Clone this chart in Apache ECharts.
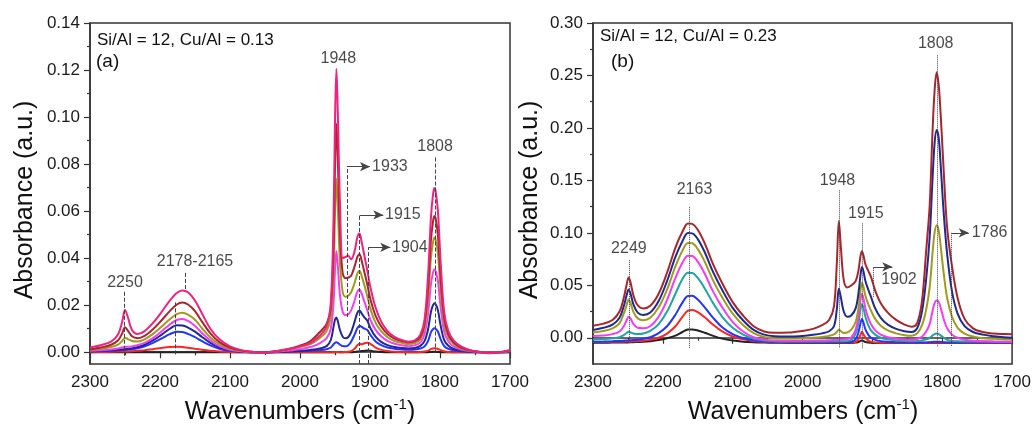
<!DOCTYPE html>
<html>
<head>
<meta charset="utf-8">
<script src="https://cdn.jsdelivr.net/npm/echarts@6/dist/echarts.min.js"></script>
<style>
  html, body { margin: 0; padding: 0; background: #fff; }
  #chart { width: 1034px; height: 425px; }
</style>
</head>
<body>
<div id="chart"></div>
<script>
// ---------- Panel (a): Si/Al = 12, Cu/Al = 0.13 ----------
// wavenumber samples (cm-1)
const wnA = [2300, 2285, 2270, 2260, 2254, 2250, 2246, 2240, 2232, 2222,
             2210, 2198, 2186, 2176, 2168, 2160, 2150, 2140, 2128, 2115,
             2100, 2085, 2070, 2055, 2040, 2020, 2000, 1985, 1972, 1962,
             1956, 1952, 1950, 1948, 1946, 1943, 1939, 1935, 1931, 1927,
             1922, 1918, 1915, 1912, 1908, 1904, 1899, 1892, 1884, 1875,
             1865, 1855, 1845, 1836, 1828, 1822, 1817, 1813, 1810, 1808,
             1806, 1803, 1799, 1794, 1788, 1780, 1770, 1758, 1745, 1730,
             1715, 1700];
const a_pink = [0.0020, 0.0030, 0.0045, 0.0075, 0.0130, 0.0180, 0.0150, 0.0095, 0.0078, 0.0090,
                0.0125, 0.0170, 0.0220, 0.0252, 0.0263, 0.0255, 0.0220, 0.0165, 0.0100, 0.0055,
                0.0025, 0.0010, 0.0003, -0.0002, 0.0002, 0.0012, 0.0025, 0.0040, 0.0070, 0.0110,
                0.0210, 0.0580, 0.0980, 0.1205, 0.1020, 0.0640, 0.0400, 0.0405, 0.0410, 0.0395,
                0.0430, 0.0490, 0.0505, 0.0470, 0.0410, 0.0350, 0.0270, 0.0190, 0.0130, 0.0090,
                0.0065, 0.0052, 0.0045, 0.0050, 0.0075, 0.0140, 0.0330, 0.0570, 0.0670, 0.0698,
                0.0680, 0.0600, 0.0380, 0.0170, 0.0090, 0.0048, 0.0025, 0.0010, 0.0002, -0.0004,
                0.0000, 0.0010];
const a_darkred = [0.0012, 0.0020, 0.0032, 0.0050, 0.0080, 0.0106, 0.0092, 0.0068, 0.0060, 0.0070,
                   0.0098, 0.0135, 0.0175, 0.0203, 0.0211, 0.0203, 0.0175, 0.0130, 0.0080, 0.0043,
                   0.0020, 0.0008, 0.0002, -0.0001, 0.0002, 0.0012, 0.0028, 0.0048, 0.0085, 0.0120,
                   0.0190, 0.0460, 0.0780, 0.0972, 0.0820, 0.0510, 0.0335, 0.0315, 0.0318, 0.0325,
                   0.0365, 0.0405, 0.0417, 0.0390, 0.0340, 0.0290, 0.0220, 0.0155, 0.0110, 0.0078,
                   0.0058, 0.0048, 0.0042, 0.0046, 0.0066, 0.0125, 0.0275, 0.0475, 0.0556, 0.0579,
                   0.0565, 0.0498, 0.0313, 0.0145, 0.0075, 0.0040, 0.0020, 0.0008, 0.0002, -0.0003,
                   0.0000, 0.0008];
const a_olive = [0.0010, 0.0015, 0.0022, 0.0032, 0.0048, 0.0062, 0.0056, 0.0048, 0.0046, 0.0055,
                 0.0078, 0.0108, 0.0140, 0.0162, 0.0168, 0.0160, 0.0138, 0.0102, 0.0063, 0.0034,
                 0.0015, 0.0006, 0.0001, -0.0001, 0.0002, 0.0010, 0.0022, 0.0035, 0.0060, 0.0090,
                 0.0150, 0.0350, 0.0590, 0.0738, 0.0620, 0.0385, 0.0255, 0.0236, 0.0240, 0.0255,
                 0.0295, 0.0335, 0.0347, 0.0325, 0.0285, 0.0240, 0.0180, 0.0125, 0.0090, 0.0064,
                 0.0048, 0.0040, 0.0035, 0.0038, 0.0056, 0.0105, 0.0230, 0.0400, 0.0468, 0.0488,
                 0.0476, 0.0420, 0.0264, 0.0122, 0.0063, 0.0034, 0.0017, 0.0007, 0.0002, -0.0002,
                 0.0000, 0.0006];
const a_magenta = [0.0006, 0.0008, 0.0012, 0.0016, 0.0020, 0.0023, 0.0023, 0.0025, 0.0030, 0.0040,
                   0.0060, 0.0088, 0.0118, 0.0137, 0.0141, 0.0133, 0.0112, 0.0082, 0.0050, 0.0026,
                   0.0011, 0.0004, 0.0000, -0.0001, 0.0001, 0.0006, 0.0013, 0.0022, 0.0038, 0.0060,
                   0.0100, 0.0215, 0.0350, 0.0431, 0.0370, 0.0245, 0.0172, 0.0158, 0.0162, 0.0178,
                   0.0220, 0.0258, 0.0267, 0.0250, 0.0215, 0.0180, 0.0135, 0.0095, 0.0068, 0.0048,
                   0.0036, 0.0030, 0.0026, 0.0029, 0.0042, 0.0078, 0.0165, 0.0289, 0.0338, 0.0352,
                   0.0343, 0.0303, 0.0190, 0.0088, 0.0046, 0.0024, 0.0012, 0.0005, 0.0001, -0.0001,
                   0.0000, 0.0004];
const a_navy = [0.0004, 0.0006, 0.0008, 0.0010, 0.0012, 0.0013, 0.0014, 0.0017, 0.0022, 0.0032,
                0.0050, 0.0074, 0.0100, 0.0115, 0.0114, 0.0105, 0.0088, 0.0065, 0.0040, 0.0021,
                0.0009, 0.0003, 0.0000, -0.0001, 0.0000, 0.0003, 0.0006, 0.0010, 0.0016, 0.0026,
                0.0052, 0.0110, 0.0138, 0.0148, 0.0133, 0.0095, 0.0066, 0.0059, 0.0065, 0.0085,
                0.0130, 0.0168, 0.0177, 0.0165, 0.0148, 0.0135, 0.0100, 0.0066, 0.0044, 0.0030,
                0.0022, 0.0018, 0.0016, 0.0018, 0.0027, 0.0048, 0.0098, 0.0171, 0.0200, 0.0208,
                0.0203, 0.0179, 0.0112, 0.0052, 0.0028, 0.0014, 0.0007, 0.0003, 0.0001, 0.0000,
                0.0000, 0.0002];
const a_blue = [0.0003, 0.0004, 0.0006, 0.0008, 0.0009, 0.0010, 0.0011, 0.0013, 0.0017, 0.0025,
                0.0040, 0.0058, 0.0077, 0.0087, 0.0086, 0.0078, 0.0064, 0.0047, 0.0029, 0.0015,
                0.0006, 0.0002, 0.0000, -0.0001, 0.0000, 0.0002, 0.0004, 0.0006, 0.0009, 0.0013,
                0.0020, 0.0034, 0.0040, 0.0042, 0.0040, 0.0033, 0.0026, 0.0025, 0.0030, 0.0045,
                0.0075, 0.0103, 0.0113, 0.0108, 0.0100, 0.0095, 0.0072, 0.0046, 0.0030, 0.0020,
                0.0015, 0.0012, 0.0011, 0.0012, 0.0016, 0.0025, 0.0048, 0.0084, 0.0098, 0.0102,
                0.0099, 0.0088, 0.0055, 0.0026, 0.0014, 0.0008, 0.0004, 0.0002, 0.0000, 0.0000,
                0.0000, 0.0001];
const a_red = [0.0000, 0.0001, 0.0002, 0.0003, 0.0003, 0.0003, 0.0003, 0.0004, 0.0006, 0.0009,
               0.0013, 0.0018, 0.0022, 0.0023, 0.0022, 0.0019, 0.0015, 0.0011, 0.0006, 0.0003,
               0.0001, 0.0000, 0.0000, 0.0000, 0.0000, 0.0000, 0.0000, 0.0000, 0.0000, 0.0000,
               0.0000, 0.0000, 0.0001, 0.0001, 0.0001, 0.0000, 0.0000, 0.0001, 0.0002, 0.0005,
               0.0015, 0.0030, 0.0036, 0.0034, 0.0038, 0.0040, 0.0035, 0.0020, 0.0010, 0.0005,
               0.0002, 0.0001, 0.0000, 0.0000, 0.0001, 0.0003, 0.0007, 0.0013, 0.0016, 0.0017,
               0.0016, 0.0014, 0.0009, 0.0004, 0.0001, 0.0000, 0.0000, 0.0000, 0.0000, 0.0000,
               0.0000, 0.0000];
const a_black = [0.0000, 0.0000, 0.0000, 0.0000, 0.0000, 0.0000, 0.0000, 0.0000, 0.0000, 0.0000,
                 0.0000, 0.0000, 0.0000, 0.0000, 0.0000, 0.0000, 0.0000, 0.0000, 0.0000, 0.0000,
                 0.0000, 0.0000, 0.0000, 0.0000, 0.0000, 0.0000, 0.0000, 0.0000, 0.0000, 0.0000,
                 0.0000, 0.0000, 0.0000, 0.0000, 0.0000, 0.0000, 0.0000, 0.0000, 0.0000, 0.0000,
                 0.0001, 0.0003, 0.0004, 0.0005, 0.0006, 0.0007, 0.0006, 0.0003, 0.0001, 0.0000,
                 0.0000, 0.0000, 0.0000, 0.0000, 0.0000, 0.0000, 0.0000, 0.0001, 0.0002, 0.0002,
                 0.0002, 0.0001, 0.0000, 0.0000, 0.0000, 0.0000, 0.0000, 0.0000, 0.0000, 0.0000,
                 0.0000, 0.0000];

// ---------- Panel (b): Si/Al = 12, Cu/Al = 0.23 ----------
const wnB = [2300, 2285, 2272, 2262, 2256, 2252, 2249, 2246, 2242, 2236,
             2228, 2218, 2206, 2194, 2182, 2172, 2164, 2158, 2150, 2140,
             2128, 2115, 2100, 2085, 2070, 2055, 2040, 2020, 2000, 1985,
             1972, 1962, 1955, 1951, 1948, 1945, 1941, 1936, 1930, 1924,
             1920, 1917, 1915, 1913, 1910, 1906, 1902, 1896, 1888, 1878,
             1866, 1854, 1844, 1836, 1829, 1823, 1818, 1814, 1811, 1808,
             1805, 1802, 1798, 1793, 1786, 1778, 1768, 1756, 1742, 1726,
             1712, 1700];
const b_darkred = [0.0115, 0.0135, 0.0170, 0.0250, 0.0380, 0.0500, 0.0575, 0.0520, 0.0400, 0.0310,
                   0.0280, 0.0305, 0.0420, 0.0620, 0.0860, 0.1010, 0.1090, 0.1085, 0.1030, 0.0900,
                   0.0700, 0.0520, 0.0340, 0.0210, 0.0110, 0.0060, 0.0048, 0.0050, 0.0065, 0.0085,
                   0.0120, 0.0170, 0.0300, 0.0700, 0.1114, 0.0850, 0.0550, 0.0480, 0.0500, 0.0540,
                   0.0640, 0.0780, 0.0825, 0.0790, 0.0700, 0.0640, 0.0580, 0.0450, 0.0330, 0.0240,
                   0.0170, 0.0125, 0.0105, 0.0140, 0.0350, 0.0830, 0.1260, 0.1950, 0.2350, 0.2530,
                   0.2400, 0.2100, 0.1600, 0.1050, 0.0680, 0.0380, 0.0180, 0.0090, 0.0055, 0.0040,
                   0.0035, 0.0033];
const b_navy = [0.0075, 0.0095, 0.0125, 0.0190, 0.0300, 0.0400, 0.0460, 0.0415, 0.0315, 0.0240,
                0.0218, 0.0240, 0.0350, 0.0540, 0.0770, 0.0920, 0.0998, 0.0995, 0.0940, 0.0815,
                0.0625, 0.0455, 0.0285, 0.0165, 0.0075, 0.0030, 0.0015, 0.0013, 0.0018, 0.0028,
                0.0042, 0.0062, 0.0110, 0.0270, 0.0470, 0.0380, 0.0250, 0.0200, 0.0215, 0.0280,
                0.0420, 0.0600, 0.0675, 0.0640, 0.0540, 0.0460, 0.0390, 0.0280, 0.0190, 0.0125,
                0.0085, 0.0062, 0.0055, 0.0090, 0.0250, 0.0560, 0.0960, 0.1500, 0.1850, 0.1980,
                0.1900, 0.1620, 0.1200, 0.0800, 0.0440, 0.0230, 0.0110, 0.0055, 0.0030, 0.0015,
                0.0005, 0.0000];
const b_olive = [0.0050, 0.0065, 0.0090, 0.0140, 0.0230, 0.0310, 0.0365, 0.0325, 0.0245, 0.0185,
                 0.0168, 0.0190, 0.0290, 0.0460, 0.0680, 0.0830, 0.0903, 0.0900, 0.0845, 0.0725,
                 0.0545, 0.0385, 0.0230, 0.0120, 0.0045, 0.0008, -0.0004, -0.0007, -0.0005, 0.0000,
                 0.0008, 0.0018, 0.0032, 0.0055, 0.0076, 0.0062, 0.0046, 0.0050, 0.0080, 0.0150,
                 0.0280, 0.0450, 0.0524, 0.0490, 0.0400, 0.0320, 0.0260, 0.0180, 0.0115, 0.0070,
                 0.0042, 0.0025, 0.0020, 0.0040, 0.0120, 0.0270, 0.0480, 0.0800, 0.1000, 0.1073,
                 0.1020, 0.0860, 0.0620, 0.0380, 0.0200, 0.0095, 0.0040, 0.0012, -0.0004, -0.0010,
                 -0.0014, -0.0016];
const b_magenta = [0.0016, 0.0022, 0.0035, 0.0060, 0.0110, 0.0165, 0.0200, 0.0180, 0.0130, 0.0095,
                   0.0090, 0.0110, 0.0200, 0.0360, 0.0570, 0.0715, 0.0782, 0.0780, 0.0725, 0.0610,
                   0.0440, 0.0290, 0.0150, 0.0060, 0.0005, -0.0018, -0.0026, -0.0028, -0.0028, -0.0026,
                   -0.0025, -0.0023, -0.0021, -0.0019, -0.0017, -0.0018, -0.0016, -0.0012, 0.0005, 0.0075,
                   0.0200, 0.0360, 0.0416, 0.0380, 0.0280, 0.0190, 0.0130, 0.0070, 0.0030, 0.0005,
                   -0.0010, -0.0018, -0.0020, -0.0012, 0.0010, 0.0060, 0.0130, 0.0250, 0.0330, 0.0355,
                   0.0340, 0.0280, 0.0180, 0.0090, 0.0030, 0.0000, -0.0018, -0.0028, -0.0033, -0.0036,
                   -0.0038, -0.0040];
const b_teal = [-0.0016, -0.0012, -0.0005, 0.0005, 0.0025, 0.0045, 0.0057, 0.0050, 0.0040, 0.0035,
                0.0040, 0.0065, 0.0130, 0.0250, 0.0420, 0.0560, 0.0620, 0.0618, 0.0570, 0.0470,
                0.0330, 0.0200, 0.0095, 0.0030, -0.0008, -0.0026, -0.0032, -0.0035, -0.0036, -0.0036,
                -0.0035, -0.0034, -0.0034, -0.0033, -0.0033, -0.0033, -0.0033, -0.0032, -0.0020, 0.0040,
                0.0140, 0.0270, 0.0320, 0.0290, 0.0200, 0.0120, 0.0070, 0.0030, 0.0000, -0.0015,
                -0.0025, -0.0030, -0.0032, -0.0030, -0.0025, -0.0015, 0.0000, 0.0020, 0.0035, 0.0040,
                0.0035, 0.0020, 0.0000, -0.0020, -0.0030, -0.0034, -0.0035, -0.0036, -0.0036, -0.0037,
                -0.0037, -0.0037];
const b_blue = [-0.0038, -0.0036, -0.0033, -0.0030, -0.0028, -0.0026, -0.0025, -0.0024, -0.0022, -0.0018,
                -0.0010, 0.0005, 0.0045, 0.0110, 0.0220, 0.0335, 0.0398, 0.0400, 0.0365, 0.0290,
                0.0190, 0.0100, 0.0035, -0.0003, -0.0024, -0.0035, -0.0040, -0.0042, -0.0043, -0.0043,
                -0.0043, -0.0043, -0.0043, -0.0043, -0.0043, -0.0043, -0.0043, -0.0043, -0.0038, -0.0015,
                0.0050, 0.0140, 0.0178, 0.0150, 0.0080, 0.0030, 0.0000, -0.0020, -0.0032, -0.0038,
                -0.0042, -0.0044, -0.0045, -0.0045, -0.0045, -0.0044, -0.0042, -0.0040, -0.0038, -0.0037,
                -0.0038, -0.0040, -0.0042, -0.0044, -0.0045, -0.0045, -0.0045, -0.0045, -0.0045, -0.0045,
                -0.0045, -0.0045];
const b_red = [-0.0040, -0.0040, -0.0039, -0.0038, -0.0037, -0.0036, -0.0036, -0.0035, -0.0034, -0.0033,
               -0.0028, -0.0020, 0.0000, 0.0040, 0.0110, 0.0200, 0.0258, 0.0265, 0.0245, 0.0195,
               0.0125, 0.0060, 0.0012, -0.0015, -0.0030, -0.0038, -0.0042, -0.0045, -0.0046, -0.0046,
               -0.0046, -0.0046, -0.0046, -0.0046, -0.0046, -0.0046, -0.0046, -0.0046, -0.0045, -0.0040,
               -0.0015, 0.0030, 0.0057, 0.0035, 0.0000, -0.0025, -0.0038, -0.0045, -0.0047, -0.0048,
               -0.0048, -0.0048, -0.0048, -0.0048, -0.0048, -0.0048, -0.0048, -0.0048, -0.0048, -0.0048,
               -0.0048, -0.0048, -0.0048, -0.0048, -0.0048, -0.0048, -0.0048, -0.0048, -0.0048, -0.0048,
               -0.0048, -0.0048];
const b_black = [-0.0048, -0.0047, -0.0046, -0.0045, -0.0045, -0.0044, -0.0044, -0.0043, -0.0042, -0.0041,
                 -0.0039, -0.0033, -0.0022, -0.0005, 0.0020, 0.0055, 0.0078, 0.0080, 0.0070, 0.0048,
                 0.0018, -0.0008, -0.0026, -0.0037, -0.0043, -0.0046, -0.0048, -0.0049, -0.0050, -0.0050,
                 -0.0050, -0.0050, -0.0050, -0.0050, -0.0050, -0.0050, -0.0050, -0.0050, -0.0049, -0.0046,
                 -0.0040, -0.0030, -0.0025, -0.0030, -0.0040, -0.0046, -0.0048, -0.0050, -0.0050, -0.0050,
                 -0.0050, -0.0050, -0.0050, -0.0050, -0.0050, -0.0050, -0.0050, -0.0050, -0.0050, -0.0050,
                 -0.0050, -0.0050, -0.0050, -0.0050, -0.0050, -0.0050, -0.0050, -0.0050, -0.0050, -0.0050,
                 -0.0050, -0.0050];

// axis ticks
const xTicks = { min: 1700, max: 2300, step: 100 };
const yTicksA = [0, 0.02, 0.04, 0.06, 0.08, 0.10, 0.12, 0.14];
const yMinorA = [0.01, 0.03, 0.05, 0.07, 0.09, 0.11, 0.13];
const yTicksB = [0, 0.05, 0.10, 0.15, 0.20, 0.25, 0.30];
const yMinorB = [0.025, 0.075, 0.125, 0.175, 0.225, 0.275];

// ---------- drawing ----------
const FONT = 'Liberation Sans, Arial, Helvetica, sans-serif';
const INK = '#333';
const COLORS = {
  pink: '#F2217F', darkred: '#A8262B', olive: '#9E9B1E', magenta: '#F53CF5',
  navy: '#1E2A8E', blue: '#2234FF', red: '#FF2424', black: '#222222', teal: '#1FA3A3'
};

function spectrum(name, wn, vals, color, gi, extra) {
  return Object.assign({
    type: 'line', name: name, xAxisIndex: gi, yAxisIndex: gi * 2,
    data: wn.map((w, i) => [w, vals[i]]),
    showSymbol: false, smooth: 0.35, silent: true, animation: false,
    lineStyle: { color: color, width: 2 }, itemStyle: { color: color }
  }, extra || {});
}

// elbow arrow: solid horizontal segment ending in a filled head
function arrow(wnFrom, wnTo, y) {
  return [{ coord: [wnFrom, y], symbol: 'none' },
          { coord: [wnTo, y], symbol: 'arrow', symbolSize: [7, 10], lineStyle: { type: 'solid' } }];
}
function markers(lines, type) {
  return {
    silent: true, animation: false, symbol: ['none', 'none'], symbolSize: 8,
    label: { show: false },
    lineStyle: { color: '#444', width: 1, type: type },
    emphasis: { disabled: true },
    data: lines
  };
}

const markA = markers([
  [{ coord: [2251, 0.0257] }, { coord: [2251, -0.0026] }],
  [{ coord: [2164, 0.0337] }, { coord: [2164, 0.0262] }],
  [{ coord: [2178, 0.0212] }, { coord: [2178, -0.0015] }],
  [{ coord: [1933, 0.0150] }, { coord: [1933, 0.0789] }],
  [{ coord: [1915, -0.0050] }, { coord: [1915, 0.0584] }],
  [{ coord: [1902, -0.0050] }, { coord: [1902, 0.0446] }],
  [{ coord: [1807, 0.0828] }, { coord: [1807, 0.0000] }],
  arrow(1933, 1900, 0.0789),
  arrow(1915, 1881, 0.0584),
  arrow(1902, 1871, 0.0446)
], 'dashed');

const markB = markers([
  [{ coord: [2248, 0.0740] }, { coord: [2248, -0.0038] }],
  [{ coord: [2162, 0.1248] }, { coord: [2162, -0.0100] }],
  [{ coord: [1947.6, 0.1405] }, { coord: [1947.6, -0.0100] }],
  [{ coord: [1915.2, 0.1090] }, { coord: [1915.2, -0.0100] }],
  [{ coord: [1898.6, 0.0390] }, { coord: [1898.6, 0.0676] }],
  [{ coord: [1807.1, 0.2692] }, { coord: [1807.1, -0.0086] }],
  [{ coord: [1786.6, 0.1000] }, { coord: [1786.6, -0.0086] }],
  arrow(1898.6, 1871.5, 0.0676),
  arrow(1786.6, 1762, 0.1000)
], 'dotted');

// band position labels
function bandLabels(gi, items) {
  return {
    type: 'scatter', xAxisIndex: gi, yAxisIndex: gi * 2, silent: true, animation: false,
    symbolSize: 0, z: 5,
    label: { show: true, position: 'inside', color: '#1a1a1a', fontSize: 16, fontFamily: FONT },
    data: items.map(it => ({ value: [it[1], it[2]],
      label: { formatter: it[0], align: it[3] || 'center', verticalAlign: 'middle' } }))
  };
}
const labelsA = bandLabels(0, [
  ['2250', 2250, 0.0295], ['2178-2165', 2150, 0.0385], ['1948', 1945.3, 0.1249],
  ['1933', 1897, 0.0789, 'left'], ['1915', 1878.5, 0.0584, 'left'],
  ['1904', 1868.5, 0.0446, 'left'], ['1808', 1807, 0.0874]
]);
const labelsB = bandLabels(1, [
  ['2249', 2248.6, 0.0851], ['2163', 2154.7, 0.1413], ['1948', 1950, 0.1502],
  ['1915', 1909.4, 0.1185], ['1902', 1862, 0.0556], ['1808', 1809.4, 0.2804],
  ['1786', 1757.6, 0.1000, 'left']
]);

function xAxis(gi) {
  return {
    type: 'value', gridIndex: gi, inverse: true,
    min: xTicks.min, max: xTicks.max, interval: xTicks.step,
    axisLine: { lineStyle: { color: INK, width: 1.5 } },
    axisTick: { inside: false, length: 6, lineStyle: { color: INK, width: 1.2 } },
    minorTick: { show: true, splitNumber: 2, length: 3, lineStyle: { color: INK, width: 1.2 } },
    splitLine: { show: false },
    axisLabel: { fontSize: 17, color: '#1a1a1a', fontFamily: FONT, margin: 10,
                 formatter: v => String(v) }
  };
}
function yAxes(gi, min, max, major, minor) {
  return [{
    type: 'value', gridIndex: gi, min: min, max: max, position: 'left',
    axisLine: { show: true, lineStyle: { color: INK, width: 1.5 } },
    axisTick: { show: true, inside: false, length: 6, customValues: major,
                lineStyle: { color: INK, width: 1.2 } },
    splitLine: { show: false },
    axisLabel: { customValues: major, fontSize: 17, color: '#1a1a1a', fontFamily: FONT, margin: 10,
                 formatter: v => v.toFixed(2) }
  }, {
    type: 'value', gridIndex: gi, min: min, max: max, position: 'left', offset: 0,
    axisLine: { show: false },
    axisTick: { show: true, inside: false, length: 3, customValues: minor,
                lineStyle: { color: INK, width: 1.2 } },
    splitLine: { show: false },
    axisLabel: { show: false }
  }];
}

const titleStyle = { font: '25px ' + FONT, fill: '#111' };
const xTitleRich = { sup: { fontSize: 15, fontFamily: FONT, fill: '#111', verticalAlign: 'bottom', padding: [0, 0, 14, 0] } };

const option = {
  animation: false,
  textStyle: { fontFamily: FONT },
  grid: [
    { left: 90, top: 23, width: 420, height: 341, show: true, borderColor: INK, borderWidth: 1.5 },
    { left: 593, top: 23, width: 420, height: 341, show: true, borderColor: INK, borderWidth: 1.5 }
  ],
  xAxis: [xAxis(0), xAxis(1)],
  yAxis: yAxes(0, -0.005, 0.14, yTicksA, yMinorA).concat(yAxes(1, -0.025, 0.30, yTicksB, yMinorB)),
  series: [
    spectrum('a black', wnA, a_black, COLORS.black, 0),
    spectrum('a red', wnA, a_red, COLORS.red, 0),
    spectrum('a blue', wnA, a_blue, COLORS.blue, 0),
    spectrum('a navy', wnA, a_navy, COLORS.navy, 0),
    spectrum('a magenta', wnA, a_magenta, COLORS.magenta, 0),
    spectrum('a olive', wnA, a_olive, COLORS.olive, 0),
    spectrum('a darkred', wnA, a_darkred, COLORS.darkred, 0),
    spectrum('a pink', wnA, a_pink, COLORS.pink, 0, { markLine: markA }),
    labelsA,
    spectrum('b black', wnB, b_black, COLORS.black, 1),
    spectrum('b red', wnB, b_red, COLORS.red, 1),
    spectrum('b blue', wnB, b_blue, COLORS.blue, 1),
    spectrum('b teal', wnB, b_teal, COLORS.teal, 1),
    spectrum('b magenta', wnB, b_magenta, COLORS.magenta, 1),
    spectrum('b olive', wnB, b_olive, COLORS.olive, 1),
    spectrum('b navy', wnB, b_navy, COLORS.navy, 1),
    spectrum('b darkred', wnB, b_darkred, COLORS.darkred, 1, { markLine: markB }),
    labelsB
  ],
  graphic: [
    { type: 'text', left: 97, top: 32, style: { text: 'Si/Al = 12, Cu/Al = 0.13', font: '17px ' + FONT, fill: '#111' } },
    { type: 'text', left: 96, top: 52, style: { text: '(a)', font: '19px ' + FONT, fill: '#111' } },
    { type: 'text', left: 600, top: 28, style: { text: 'Si/Al = 12, Cu/Al = 0.23', font: '17px ' + FONT, fill: '#111' } },
    { type: 'text', left: 611, top: 52, style: { text: '(b)', font: '19px ' + FONT, fill: '#111' } },
    { type: 'text', x: 25, y: 200, rotation: Math.PI / 2,
      style: Object.assign({ text: 'Absorbance (a.u.)', align: 'center', verticalAlign: 'middle' }, titleStyle) },
    { type: 'text', x: 530, y: 200, rotation: Math.PI / 2,
      style: Object.assign({ text: 'Absorbance (a.u.)', align: 'center', verticalAlign: 'middle' }, titleStyle) },
    { type: 'text', x: 300, y: 412,
      style: Object.assign({ text: 'Wavenumbers (cm{sup|-1})', align: 'center', verticalAlign: 'middle', rich: xTitleRich }, titleStyle) },
    { type: 'text', x: 803, y: 412,
      style: Object.assign({ text: 'Wavenumbers (cm{sup|-1})', align: 'center', verticalAlign: 'middle', rich: xTitleRich }, titleStyle) }
  ]
};

const chart = echarts.init(document.getElementById('chart'), null, { renderer: 'canvas' });
chart.setOption(option);
</script>
</body>
</html>
